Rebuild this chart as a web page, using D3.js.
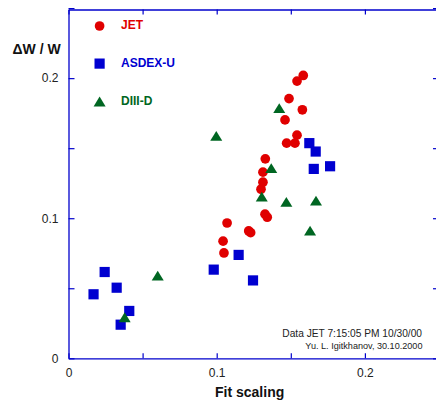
<!DOCTYPE html>
<html>
<head>
<meta charset="utf-8">
<script src="https://cdn.jsdelivr.net/npm/d3@7"></script>
<style>
    body { margin: 0; background: #fff; }
    text { font-family: "Liberation Sans", Arial, Helvetica, sans-serif; }
</style>
</head>
<body>
<div id="chartDiv"></div>
<script>

var jetPoints = [
    [0.1584, 0.2019], [0.1542, 0.1979], [0.1488, 0.1854], [0.1578, 0.1774],
    [0.1461, 0.1702], [0.1542, 0.1593], [0.1472, 0.1536], [0.1528, 0.1536],
    [0.1328, 0.1424], [0.1312, 0.1329], [0.1312, 0.1257], [0.1299, 0.1207],
    [0.1326, 0.1029], [0.1341, 0.1007], [0.1070, 0.0966], [0.1216, 0.0909],
    [0.1229, 0.0897], [0.1043, 0.0836], [0.1049, 0.0752]
];
var asdexPoints = [
    [0.0169, 0.0457], [0.0244, 0.0616], [0.0325, 0.0504], [0.0410, 0.0338],
    [0.0352, 0.0240], [0.0980, 0.0633], [0.1148, 0.0738], [0.1245, 0.0556],
    [0.1625, 0.1536], [0.1668, 0.1476], [0.1655, 0.1352], [0.1765, 0.1371]
];
var diiidPoints = [
    [0.0379, 0.0293], [0.0602, 0.0590], [0.0997, 0.1588], [0.1422, 0.1786],
    [0.1368, 0.1357], [0.1304, 0.1154], [0.1470, 0.1116], [0.1670, 0.1126],
    [0.1630, 0.0911]
];

var seriesNames = ["JET", "ASDEX-U", "DIII-D"];
var tickValues = [0, 0.05, 0.1, 0.15, 0.2, 0.25];
var tickLabels = {"0": "0", "0.1": "0.1", "0.2": "0.2"};
var noteLines = ["Data JET 7:15:05 PM 10/30/00", "Yu. L. Igitkhanov, 30.10.2000"];

var chart = (function () {

    var self = {};
    var width = 436, height = 401;
    var axisColor = "#0000cc";

    // flat triangle, centered on its box (the plot program draws them a bit squat)
    var flatTriangle = {
        draw: function (ctx, size) {
            var w = 12, h = 9.8;
            ctx.moveTo(0, -h / 2);
            ctx.lineTo(w / 2, h / 2);
            ctx.lineTo(-w / 2, h / 2);
            ctx.closePath();
        }
    }

    var series = [
        {name: seriesNames[0], points: jetPoints, color: "#e00000", symbol: d3.symbolCircle, size: 74},
        {name: seriesNames[1], points: asdexPoints, color: "#0000d0", symbol: d3.symbolSquare, size: 104},
        {name: seriesNames[2], points: diiidPoints, color: "#006622", symbol: flatTriangle, size: 0}
    ];

    self.draw = function () {

        var svg = d3.select("#chartDiv").append("svg")
            .attr("width", width)
            .attr("height", height);

        svg.append("rect").attr("width", width).attr("height", height).attr("fill", "#fff");

        var x = d3.scaleLinear().domain([0, 0.25]).range([68.5, 439]);
        var y = d3.scaleLinear().domain([0, 0.249]).range([358.3, 9.5]);

        var fmt = function (d) {
            var key = String(+d.toFixed(2));
            return tickLabels[key] || "";
        }

        var axes = [
            {axis: d3.axisBottom(x).tickSizeInner(-5).tickPadding(10.5).tickFormat(fmt), tr: [0, y(0)]},
            {axis: d3.axisTop(x).tickSizeInner(-5).tickFormat(function () { return ""; }), tr: [0, y.range()[1]]},
            {axis: d3.axisLeft(y).tickSizeInner(-6).tickPadding(10).tickFormat(fmt), tr: [x(0), 0]},
            {axis: d3.axisRight(y).tickSizeInner(-6).tickFormat(function () { return ""; }), tr: [x.range()[1], 0]}
        ];
        axes.forEach(function (a) {
            var g = svg.append("g")
                .attr("transform", "translate(" + a.tr[0] + "," + a.tr[1] + ")")
                .call(a.axis.tickValues(tickValues).tickSizeOuter(0));
            g.select(".domain").attr("stroke", axisColor).attr("stroke-width", 1.3);
            g.selectAll(".tick line").attr("stroke", axisColor).attr("stroke-width", 1.2);
            g.selectAll(".tick text").attr("fill", "#222").style("font-size", "12px")
                .style("font-family", "'Liberation Sans', Arial, sans-serif");
        })

        // axis titles
        svg.append("text").attr("x", 12.5).attr("y", 54.3)
            .style("font-size", "14px").style("font-weight", "bold").attr("fill", "#111")
            .text("\u0394W / W");
        svg.append("text").attr("x", 215).attr("y", 396.7)
            .style("font-size", "14px").style("font-weight", "bold").attr("fill", "#111")
            .text("Fit scaling");

        // data marks
        series.forEach(function (s) {
            svg.append("g").selectAll("path")
                .data(s.points)
                .enter().append("path")
                .attr("d", d3.symbol().type(s.symbol).size(s.size))
                .attr("transform", function (d) {
                    return "translate(" + x(d[0]) + "," + y(d[1]) + ")";
                })
                .attr("fill", s.color);
        })

        // legend
        series.forEach(function (s, i) {
            var ly = 26 + i * 37.6;
            var ty = s.symbol == flatTriangle ? ly + 0.3 : ly;
            svg.append("path")
                .attr("d", d3.symbol().type(s.symbol).size(s.size))
                .attr("transform", "translate(99.6," + ty + ")")
                .attr("fill", s.color);
            svg.append("text").attr("x", 121).attr("y", ly + 3.3 + (i > 0 ? 0.5 : 0))
                .attr("fill", s.color)
                .style("font-size", "12px").style("font-weight", "bold")
                .text(s.name);
        })

        // notes bottom right
        svg.append("text").attr("x", 422).attr("y", 336.7).attr("text-anchor", "end")
            .attr("fill", "#222").style("font-size", "10.2px")
            .text(noteLines[0]);
        svg.append("text").attr("x", 422.5).attr("y", 349.3).attr("text-anchor", "end")
            .attr("fill", "#222").style("font-size", "9.1px")
            .text(noteLines[1]);
    }

    return self;

})()

chart.draw();
</script>
</body>
</html>
